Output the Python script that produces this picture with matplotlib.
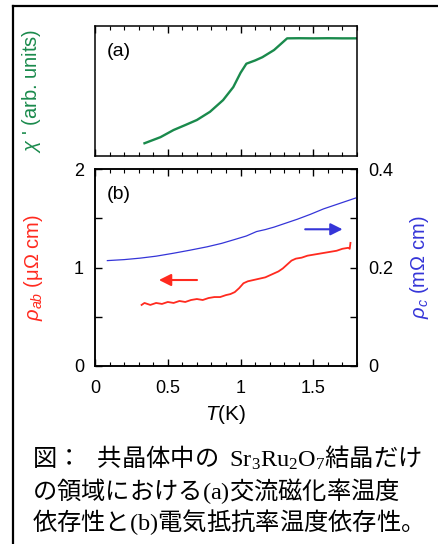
import matplotlib
matplotlib.use("Agg")
import matplotlib.pyplot as plt
from matplotlib.lines import Line2D
from matplotlib.ticker import MultipleLocator

plt.rcParams['font.family'] = ['Liberation Sans', 'DejaVu Sans']
plt.rcParams['mathtext.fontset'] = 'custom'
plt.rcParams['mathtext.rm'] = 'Liberation Serif'
plt.rcParams['mathtext.it'] = 'Liberation Sans:italic'
plt.rcParams['mathtext.bf'] = 'Liberation Sans:bold'

# (a) ac susceptibility, arb. units
T_chi = [0.34, 0.45, 0.54, 0.62, 0.70, 0.79, 0.88, 0.95, 1.00, 1.04,
         1.10, 1.15, 1.23, 1.28, 1.32, 1.40, 1.50, 1.60, 1.70, 1.80]
chi = [0.098, 0.145, 0.200, 0.238, 0.277, 0.340, 0.430, 0.530, 0.640, 0.710,
       0.735, 0.760, 0.815, 0.865, 0.905, 0.906, 0.905, 0.906, 0.905, 0.905]

# (b) rho_ab (left axis, uOhm cm)
T_ab = [0.32, 0.34, 0.38, 0.42, 0.46, 0.50, 0.54, 0.58, 0.62, 0.66,
        0.70, 0.74, 0.78, 0.82, 0.86, 0.90, 0.93, 0.96, 0.99, 1.02,
        1.05, 1.08, 1.11, 1.14, 1.17, 1.20, 1.23, 1.26, 1.29, 1.32,
        1.35, 1.38, 1.42, 1.46, 1.50, 1.54, 1.58, 1.62, 1.66, 1.70,
        1.74, 1.75, 1.755]
rho_ab = [0.62, 0.64, 0.62, 0.64, 0.63, 0.65, 0.64, 0.66, 0.65, 0.67,
          0.68, 0.67, 0.69, 0.70, 0.70, 0.72, 0.73, 0.75, 0.79, 0.84,
          0.86, 0.87, 0.88, 0.89, 0.90, 0.92, 0.94, 0.96, 0.99, 1.03,
          1.07, 1.09, 1.10, 1.12, 1.13, 1.14, 1.15, 1.16, 1.17, 1.19,
          1.20, 1.19, 1.25]

# (b) rho_c (right axis, mOhm cm)
T_c = [0.085, 0.20, 0.31, 0.42, 0.54, 0.65, 0.77, 0.87, 0.95, 1.04,
       1.11, 1.17, 1.23, 1.31, 1.39, 1.48, 1.57, 1.68, 1.79]
rho_c = [0.214, 0.216, 0.219, 0.223, 0.229, 0.235, 0.242, 0.249, 0.256, 0.264,
         0.273, 0.277, 0.282, 0.290, 0.298, 0.308, 0.319, 0.330, 0.341]

green = '#1a8a4c'
red = '#ff2a1f'
blue = '#3535d8'

fig = plt.figure(figsize=(4.38, 5.44), dpi=100)

# outer frame (only top and left visible)
fig.add_artist(Line2D([13/438, 13/438], [0, 1 - 6/544], transform=fig.transFigure, color='black', lw=1.6))
fig.add_artist(Line2D([13/438, 1], [1 - 6/544, 1 - 6/544], transform=fig.transFigure, color='black', lw=1.6))

axa = fig.add_axes([95/438, 1 - 156/544, 262/438, 130/544])
axb = fig.add_axes([95/438, 1 - 366/544, 262/438, 197/544])
axc = axb.twinx()

# panel (a)
axa.plot(T_chi, chi, color=green, lw=1.7)
axa.set_xlim(0, 1.8)
axa.set_ylim(0, 1)
axa.xaxis.set_major_locator(MultipleLocator(0.5))
axa.xaxis.set_minor_locator(MultipleLocator(0.1))
axa.tick_params(axis='x', which='both', direction='in', top=True, bottom=True, labelbottom=False)
axa.tick_params(axis='x', which='major', length=5, width=1)
axa.tick_params(axis='x', which='minor', length=3, width=0.8)
axa.tick_params(axis='y', left=False, labelleft=False)
axa.set_ylabel("$\\chi$ ' (arb. units)", color=green, fontsize=14.5)
axa.yaxis.set_label_coords(-0.198, 0.5)
axa.text(0.046, 0.80, '(a)', transform=axa.transAxes, fontsize=14, va='center')

# panel (b)
axb.plot(T_ab, rho_ab, color=red, lw=1.3)
axc.plot(T_c, rho_c, color=blue, lw=0.9)
axb.set_xlim(0, 1.8)
axb.set_ylim(0, 2)
axc.set_ylim(0, 0.4)
axb.xaxis.set_major_locator(MultipleLocator(0.5))
axb.xaxis.set_minor_locator(MultipleLocator(0.1))
axb.xaxis.set_major_formatter(lambda v, p: f"{v:g}")
axb.yaxis.set_major_locator(MultipleLocator(1))
axb.yaxis.set_minor_locator(MultipleLocator(0.5))
axc.yaxis.set_major_locator(MultipleLocator(0.2))
axc.yaxis.set_minor_locator(MultipleLocator(0.1))
axc.yaxis.set_major_formatter(lambda v, p: f"{v:g}")
axb.tick_params(axis='x', which='both', direction='in', top=True, bottom=True, labelsize=13, pad=10)
axb.tick_params(axis='x', which='major', length=5, width=1)
axb.tick_params(axis='x', which='minor', length=3, width=0.8)
axb.tick_params(axis='y', which='both', direction='in', labelsize=13, pad=8, length=5, width=1)
axc.tick_params(axis='y', which='both', direction='in', labelsize=13, pad=8, length=5, width=1)

axb.set_xlabel('$T$(K)', fontsize=15)
axb.xaxis.set_label_coords(0.5, -0.19)
axb.set_ylabel('$\\rho_{ab}$ (μΩ cm)', color=red, fontsize=14.5)
axb.yaxis.set_label_coords(-0.191, 0.5)
axc.set_ylabel('$\\rho_{c}$ (mΩ cm)', color=blue, fontsize=14.5, rotation=90)
axc.yaxis.set_label_coords(1.195, 0.5)
axb.text(0.046, 0.87, '(b)', transform=axb.transAxes, fontsize=14, va='center')

axb.annotate('', xy=(0.42, 0.873), xytext=(0.72, 0.873),
             arrowprops=dict(arrowstyle='-|>', color=red, lw=1.5, mutation_scale=18))
axc.annotate('', xy=(1.72, 0.2776), xytext=(1.425, 0.2776),
             arrowprops=dict(arrowstyle='-|>', color=blue, lw=1.5, mutation_scale=18))

for ax in (axa, axb, axc):
    for s in ax.spines.values():
        s.set_linewidth(1.1)

# caption
caption = [
    "図：   共晶体中の  $\\mathrm{Sr_3Ru_2O_7}$結晶だけ",
    "の領域における$\\mathrm{(a)}$交流磁化率温度",
    "依存性と$\\mathrm{(b)}$電気抵抗率温度依存性。",
]
cap_y = [459, 491, 522]
for line, y in zip(caption, cap_y):
    fig.text(32/438, 1 - y/544, line, fontsize=17.5, va='center', ha='left',
             family=['Noto Sans CJK JP', 'DejaVu Sans'])

fig.savefig('out.png', dpi=100)
